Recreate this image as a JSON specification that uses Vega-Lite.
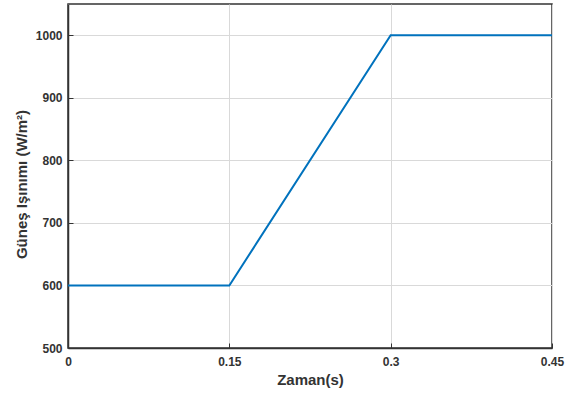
{
  "$schema": "https://vega.github.io/schema/vega-lite/v6.json",
  "autosize": "none",
  "width": 484,
  "height": 344,
  "padding": {"left": 68, "top": 4, "right": 13, "bottom": 49},
  "background": "white",
  "config": {
    "view": {"stroke": "#333333", "strokeWidth": 1.5},
    "font": "Liberation Sans"
  },
  "data": {"values": [
    {"t": 0, "g": 600},
    {"t": 0.15, "g": 600},
    {"t": 0.3, "g": 1000},
    {"t": 0.45, "g": 1000}
  ]},
  "mark": {"type": "line", "color": "#0072BD", "strokeWidth": 2},
  "encoding": {
    "x": {
      "field": "t", "type": "quantitative",
      "scale": {"domain": [0, 0.45], "nice": false},
      "axis": {
        "values": [0, 0.15, 0.3, 0.45],
        "labelExpr": "format(datum.value, '.2~f')",
        "title": "Zaman(s)",
        "titleFont": "Liberation Sans", "titleFontSize": 15, "titleFontWeight": "bold", "titleColor": "#333333",
        "titlePadding": 5,
        "labelFont": "Liberation Sans", "labelFontSize": 12, "labelFontWeight": "bold", "labelColor": "#333333",
        "labelPadding": 13,
        "labelFlush": false,
        "domainColor": "#333333", "domainWidth": 1.5,
        "tickColor": "#333333", "tickSize": -5, "tickWidth": 1,
        "gridColor": "#d9d9d9", "gridWidth": 1
      }
    },
    "y": {
      "field": "g", "type": "quantitative",
      "scale": {"domain": [500, 1050], "nice": false, "zero": false},
      "axis": {
        "values": [500, 600, 700, 800, 900, 1000],
        "format": "d",
        "title": "Güneş Işınımı (W/m²)",
        "titleFont": "Liberation Sans", "titleFontSize": 15, "titleFontWeight": "bold", "titleColor": "#333333",
        "titlePadding": 6,
        "titleY": 180,
        "labelFont": "Liberation Sans", "labelFontSize": 12, "labelFontWeight": "bold", "labelColor": "#333333",
        "labelPadding": 11,
        "labelFlush": false,
        "domainColor": "#333333", "domainWidth": 1.5,
        "tickColor": "#333333", "tickSize": -5, "tickWidth": 1,
        "gridColor": "#d9d9d9", "gridWidth": 1
      }
    }
  }
}
